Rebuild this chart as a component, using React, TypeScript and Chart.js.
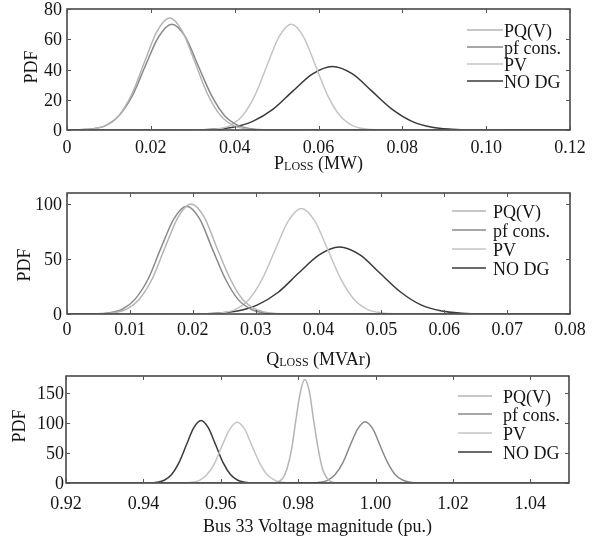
import React, { useEffect, useRef } from "react";
import { Chart, registerables } from "chart.js";

Chart.register(...registerables);

const SERIES_NAMES = ["PQ(V)", "pf cons.", "PV", "NO DG"];
const SERIES_COLORS = ["#b4b4b4", "#8a8a8a", "#c4c4c4", "#3a3a3a"];

// ---------- Panel 1: P_LOSS (MW) ----------
const P_X_TICKS = [0, 0.02, 0.04, 0.06, 0.08, 0.1, 0.12];
const P_X_LABELS = ["0", "0.02", "0.04", "0.06", "0.08", "0.10", "0.12"];
const P_Y_TICKS = [0, 20, 40, 60, 80];
const P_Y_LABELS = ["0", "20", "40", "60", "80"];

const P_PQV_X = [0, 0.0035, 0.0065, 0.0095, 0.0125, 0.0155, 0.0185, 0.0215, 0.0245, 0.0275, 0.0305, 0.0335, 0.0365, 0.0395, 0.0425, 0.0455, 0.12];
const P_PQV_Y = [0, 0.2, 0.8, 3.2, 10.0, 24.0, 44.9, 65.3, 74, 65.3, 44.9, 24.0, 10.0, 3.2, 0.8, 0.2, 0];
const P_PF_X = [0, 0.003, 0.0061, 0.0093, 0.0124, 0.0156, 0.0187, 0.0219, 0.025, 0.0282, 0.0313, 0.0345, 0.0376, 0.0408, 0.0439, 0.047, 0.12];
const P_PF_Y = [0, 0.2, 0.8, 3.1, 9.5, 22.7, 42.5, 61.8, 70, 61.8, 42.5, 22.7, 9.5, 3.1, 0.8, 0.2, 0];
const P_PV_X = [0, 0.0332, 0.0361, 0.039, 0.0419, 0.0448, 0.0477, 0.0506, 0.0535, 0.0564, 0.0593, 0.0622, 0.0651, 0.068, 0.0709, 0.0738, 0.12];
const P_PV_Y = [0, 0.2, 0.8, 3.1, 9.5, 22.7, 42.5, 61.8, 70, 61.8, 42.5, 22.7, 9.5, 3.1, 0.8, 0.2, 0];
const P_NODG_X = [0, 0.0301, 0.0348, 0.0396, 0.0443, 0.0491, 0.0538, 0.0586, 0.0633, 0.0681, 0.0728, 0.0776, 0.0823, 0.0871, 0.0918, 0.0966, 0.12];
const P_NODG_Y = [0, 0.1, 0.5, 1.8, 5.7, 13.6, 25.5, 37.1, 42, 37.1, 25.5, 13.6, 5.7, 1.8, 0.5, 0.1, 0];

// ---------- Panel 2: Q_LOSS (MVAr) ----------
const Q_X_TICKS = [0, 0.01, 0.02, 0.03, 0.04, 0.05, 0.06, 0.07, 0.08];
const Q_X_LABELS = ["0", "0.01", "0.02", "0.03", "0.04", "0.05", "0.06", "0.07", "0.08"];
const Q_Y_TICKS = [0, 50, 100];
const Q_Y_LABELS = ["0", "50", "100"];

const Q_PQV_X = [0, 0.0054, 0.0074, 0.0095, 0.0115, 0.0136, 0.0156, 0.0177, 0.0197, 0.0218, 0.0238, 0.0259, 0.0279, 0.03, 0.032, 0.0341, 0.08];
const Q_PQV_Y = [0, 0.2, 1.1, 4.4, 13.5, 32.5, 60.7, 88.3, 100, 88.3, 60.7, 32.5, 13.5, 4.4, 1.1, 0.2, 0];
const Q_PF_X = [0, 0.0047, 0.0067, 0.0088, 0.0108, 0.0129, 0.0149, 0.017, 0.019, 0.0211, 0.0231, 0.0252, 0.0272, 0.0293, 0.0313, 0.0334, 0.08];
const Q_PF_Y = [0, 0.2, 1.1, 4.3, 13.3, 31.8, 59.4, 86.5, 98, 86.5, 59.4, 31.8, 13.3, 4.3, 1.1, 0.2, 0];
const Q_PV_X = [0, 0.0226, 0.0247, 0.0268, 0.0289, 0.031, 0.0331, 0.0352, 0.0373, 0.0394, 0.0415, 0.0436, 0.0457, 0.0478, 0.0499, 0.052, 0.08];
const Q_PV_Y = [0, 0.2, 1.1, 4.2, 13.0, 31.2, 58.2, 84.7, 96, 84.7, 58.2, 31.2, 13.0, 4.2, 1.1, 0.2, 0];
const Q_NODG_X = [0, 0.0206, 0.0238, 0.0271, 0.0303, 0.0336, 0.0368, 0.0401, 0.0433, 0.0466, 0.0498, 0.0531, 0.0563, 0.0596, 0.0628, 0.0661, 0.08];
const Q_NODG_Y = [0, 0.1, 0.7, 2.7, 8.3, 19.8, 37.0, 53.8, 61, 53.8, 37.0, 19.8, 8.3, 2.7, 0.7, 0.1, 0];

// ---------- Panel 3: Bus 33 voltage (pu.) ----------
const V_X_TICKS = [0.92, 0.94, 0.96, 0.98, 1.0, 1.02, 1.04];
const V_X_LABELS = ["0.92", "0.94", "0.96", "0.98", "1.00", "1.02", "1.04"];
const V_Y_TICKS = [0, 50, 100, 150];
const V_Y_LABELS = ["0", "50", "100", "150"];

const V_PQV_X = [0.92, 0.9737, 0.9748, 0.976, 0.9771, 0.9783, 0.9794, 0.9806, 0.9817, 0.9829, 0.984, 0.9852, 0.9863, 0.9875, 0.9886, 0.9898, 1.05];
const V_PQV_Y = [0, 0.4, 1.9, 7.6, 23.3, 55.8, 104.3, 151.8, 172, 151.8, 104.3, 55.8, 23.3, 7.6, 1.9, 0.4, 0];
const V_PF_X = [0.92, 0.9837, 0.9856, 0.9876, 0.9895, 0.9915, 0.9934, 0.9954, 0.9973, 0.9993, 1.0012, 1.0032, 1.0051, 1.0071, 1.009, 1.011, 1.05];
const V_PF_Y = [0, 0.2, 1.1, 4.5, 13.8, 33.1, 61.9, 90.0, 102, 90.0, 61.9, 33.1, 13.8, 4.5, 1.1, 0.2, 0];
const V_PV_X = [0.92, 0.9506, 0.9525, 0.9545, 0.9564, 0.9584, 0.9603, 0.9623, 0.9642, 0.9662, 0.9681, 0.9701, 0.972, 0.974, 0.9759, 0.9779, 1.05];
const V_PV_Y = [0, 0.2, 1.1, 4.4, 13.7, 32.8, 61.3, 89.1, 101, 89.1, 61.3, 32.8, 13.7, 4.4, 1.1, 0.2, 0];
const V_NODG_X = [0.92, 0.9416, 0.9435, 0.9454, 0.9473, 0.9492, 0.9511, 0.953, 0.9549, 0.9568, 0.9587, 0.9606, 0.9625, 0.9644, 0.9663, 0.9682, 1.05];
const V_NODG_Y = [0, 0.2, 1.2, 4.6, 14.1, 33.8, 63.1, 91.8, 104, 91.8, 63.1, 33.8, 14.1, 4.6, 1.2, 0.2, 0];

const FONT = '"Liberation Serif", "Times New Roman", serif';
const TEXT_COLOR = "#151515";

type PanelCfg = {
  top: number;
  height: number;
  area: { left: number; top: number; right: number; bottom: number };
  xMin: number;
  xMax: number;
  yMax: number;
  xTicks: number[];
  xLabels: string[];
  yTicks: number[];
  yLabels: string[];
  series: { xs: number[]; ys: number[] }[];
  title: { main: string; sub: string; rest: string };
  xLabelBase: number;
  titleBase: number;
  yLabelGap: number;
  pdf: { x: number; y: number };
  legend: { x0: number; x1: number; tx: number; rows: number[] };
};

const PANELS: PanelCfg[] = [
  {
    top: 0,
    height: 185,
    area: { left: 67, top: 9, right: 570, bottom: 130 },
    xMin: 0,
    xMax: 0.12,
    yMax: 80,
    xTicks: P_X_TICKS,
    xLabels: P_X_LABELS,
    yTicks: P_Y_TICKS,
    yLabels: P_Y_LABELS,
    series: [
      { xs: P_PQV_X, ys: P_PQV_Y },
      { xs: P_PF_X, ys: P_PF_Y },
      { xs: P_PV_X, ys: P_PV_Y },
      { xs: P_NODG_X, ys: P_NODG_Y },
    ],
    title: { main: "P", sub: "LOSS", rest: " (MW)" },
    xLabelBase: 153,
    titleBase: 169,
    yLabelGap: 5,
    pdf: { x: 32, y: 67 },
    legend: { x0: 467, x1: 503, tx: 504, rows: [31, 48, 65, 82] },
  },
  {
    top: 180,
    height: 195,
    area: { left: 67, top: 13, right: 570, bottom: 134 },
    xMin: 0,
    xMax: 0.08,
    yMax: 110,
    xTicks: Q_X_TICKS,
    xLabels: Q_X_LABELS,
    yTicks: Q_Y_TICKS,
    yLabels: Q_Y_LABELS,
    series: [
      { xs: Q_PQV_X, ys: Q_PQV_Y },
      { xs: Q_PF_X, ys: Q_PF_Y },
      { xs: Q_PV_X, ys: Q_PV_Y },
      { xs: Q_NODG_X, ys: Q_NODG_Y },
    ],
    title: { main: "Q", sub: "LOSS", rest: " (MVAr)" },
    xLabelBase: 155,
    titleBase: 185,
    yLabelGap: 5,
    pdf: { x: 25, y: 85 },
    legend: { x0: 452, x1: 486, tx: 493, rows: [32, 51, 70, 89] },
  },
  {
    top: 365,
    height: 176,
    area: { left: 66, top: 11, right: 569, bottom: 118 },
    xMin: 0.92,
    xMax: 1.05,
    yMax: 178,
    xTicks: V_X_TICKS,
    xLabels: V_X_LABELS,
    yTicks: V_Y_TICKS,
    yLabels: V_Y_LABELS,
    series: [
      { xs: V_PQV_X, ys: V_PQV_Y },
      { xs: V_PF_X, ys: V_PF_Y },
      { xs: V_PV_X, ys: V_PV_Y },
      { xs: V_NODG_X, ys: V_NODG_Y },
    ],
    title: { main: "Bus 33 Voltage magnitude (pu.)", sub: "", rest: "" },
    xLabelBase: 144,
    titleBase: 167,
    yLabelGap: 2,
    pdf: { x: 20, y: 61 },
    legend: { x0: 458, x1: 492, tx: 503, rows: [32, 50, 69, 88] },
  },
];

function makeDeco(cfg: PanelCfg) {
  return {
    id: "deco",
    afterDraw(chart: any) {
      const { ctx, chartArea: a, scales } = chart;
      const xs = scales.x;
      const ys = scales.y;
      ctx.save();
      // frame
      ctx.strokeStyle = "#2e2e2e";
      ctx.lineWidth = 1.4;
      ctx.strokeRect(a.left, a.top, a.right - a.left, a.bottom - a.top);
      // inward ticks
      ctx.lineWidth = 1;
      ctx.strokeStyle = "#555";
      ctx.beginPath();
      cfg.xTicks.forEach((v) => {
        const px = Math.round(xs.getPixelForValue(v)) + 0.5;
        ctx.moveTo(px, a.top);
        ctx.lineTo(px, a.top + 4);
        ctx.moveTo(px, a.bottom);
        ctx.lineTo(px, a.bottom - 4);
      });
      cfg.yTicks.forEach((v) => {
        const py = Math.round(ys.getPixelForValue(v)) + 0.5;
        ctx.moveTo(a.left, py);
        ctx.lineTo(a.left + 4, py);
        ctx.moveTo(a.right, py);
        ctx.lineTo(a.right - 4, py);
      });
      ctx.stroke();

      ctx.fillStyle = TEXT_COLOR;
      ctx.font = `18px ${FONT}`;
      ctx.textBaseline = "alphabetic";
      // x tick labels
      ctx.textAlign = "center";
      cfg.xTicks.forEach((v, i) => {
        ctx.fillText(cfg.xLabels[i], xs.getPixelForValue(v), cfg.xLabelBase);
      });
      // y tick labels
      ctx.textAlign = "right";
      cfg.yTicks.forEach((v, i) => {
        ctx.fillText(cfg.yLabels[i], a.left - cfg.yLabelGap, ys.getPixelForValue(v) + 6);
      });
      // y title
      ctx.save();
      ctx.translate(cfg.pdf.x, cfg.pdf.y);
      ctx.rotate(-Math.PI / 2);
      ctx.textAlign = "center";
      ctx.textBaseline = "middle";
      ctx.fillText("PDF", 0, 0);
      ctx.restore();
      // x title with subscript
      ctx.textAlign = "left";
      const big = `18px ${FONT}`;
      const small = `12px ${FONT}`;
      ctx.font = big;
      const w1 = ctx.measureText(cfg.title.main).width;
      const w3 = ctx.measureText(cfg.title.rest).width;
      ctx.font = small;
      const w2 = cfg.title.sub ? ctx.measureText(cfg.title.sub).width : 0;
      const cx = (a.left + a.right) / 2;
      let x = cx - (w1 + w2 + w3) / 2;
      ctx.font = big;
      ctx.fillText(cfg.title.main, x, cfg.titleBase);
      x += w1;
      if (cfg.title.sub) {
        ctx.font = small;
        ctx.fillText(cfg.title.sub, x, cfg.titleBase + 1);
        x += w2;
      }
      ctx.font = big;
      ctx.fillText(cfg.title.rest, x, cfg.titleBase);
      // legend
      const L = cfg.legend;
      SERIES_NAMES.forEach((name, i) => {
        const y = L.rows[i];
        ctx.strokeStyle = SERIES_COLORS[i];
        ctx.lineWidth = 1.3;
        ctx.beginPath();
        ctx.moveTo(L.x0, y - 1);
        ctx.lineTo(L.x1, y - 1);
        ctx.stroke();
        ctx.fillStyle = TEXT_COLOR;
        ctx.font = big;
        ctx.fillText(name, L.tx, y + 6);
      });
      ctx.restore();
    },
  };
}

function Panel({ cfg }: { cfg: PanelCfg }) {
  const ref = useRef<HTMLCanvasElement>(null);
  useEffect(() => {
    const canvas = ref.current!;
    const chart = new Chart(canvas, {
      type: "line",
      data: {
        datasets: cfg.series.map((s, i) => ({
          label: SERIES_NAMES[i],
          data: s.xs.map((x, j) => ({ x, y: s.ys[j] })),
          borderColor: SERIES_COLORS[i],
          backgroundColor: SERIES_COLORS[i],
          borderWidth: 1.5,
          pointRadius: 0,
          fill: false,
          cubicInterpolationMode: "monotone" as const,
        })),
      },
      options: {
        animation: false,
        responsive: false,
        devicePixelRatio: 1,
        events: [],
        layout: {
          padding: { left: 0, top: cfg.area.top, right: 598 - cfg.area.right, bottom: 0 },
        },
        plugins: {
          legend: { display: false },
          tooltip: { enabled: false },
        },
        scales: {
          x: {
            type: "linear",
            min: cfg.xMin,
            max: cfg.xMax,
            grid: { display: false },
            border: { display: false },
            ticks: { display: false },
            afterFit: (s: any) => {
              s.height = cfg.height - cfg.area.bottom;
            },
          },
          y: {
            type: "linear",
            min: 0,
            max: cfg.yMax,
            grid: { display: false },
            border: { display: false },
            ticks: { display: false },
            afterFit: (s: any) => {
              s.width = cfg.area.left;
            },
          },
        },
      },
      plugins: [makeDeco(cfg)],
    } as any);
    return () => chart.destroy();
  }, [cfg]);
  return (
    <canvas
      ref={ref}
      width={598}
      height={cfg.height}
      style={{ position: "absolute", left: 0, top: cfg.top, width: 598, height: cfg.height }}
    />
  );
}

export default function App() {
  return (
    <div style={{ position: "fixed", left: 0, top: 0, width: 598, height: 541, background: "#fff", overflow: "hidden" }}>
      {PANELS.map((p, i) => (
        <Panel key={i} cfg={p} />
      ))}
    </div>
  );
}
